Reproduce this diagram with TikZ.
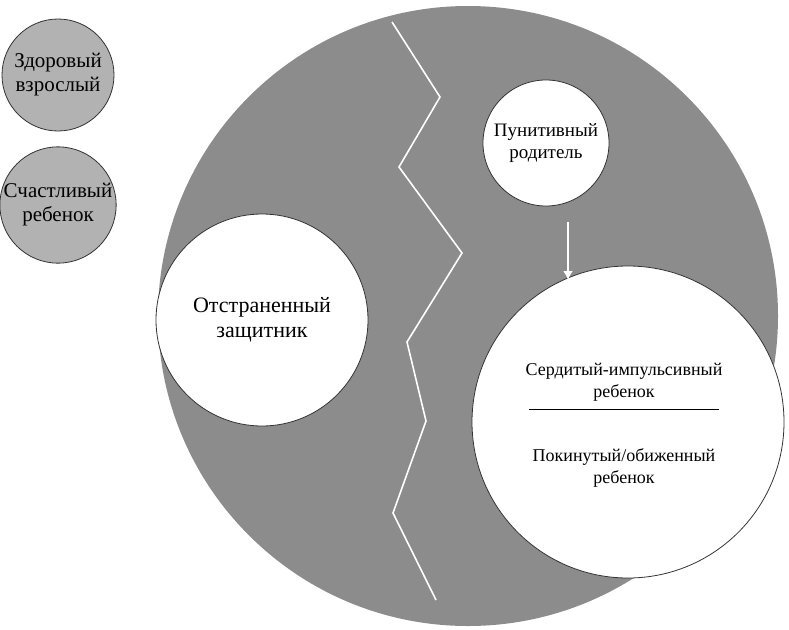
\documentclass[tikz,border=0pt]{standalone}
\usepackage{fontspec}
\setmainfont{Liberation Serif}
\usetikzlibrary{calc,arrows.meta}
\begin{document}
\begin{tikzpicture}[x=1pt,y=-1pt,
  circ/.style={circle,draw=black!80,line width=0.8pt,fill=white,align=center,inner sep=0pt},
  small/.style={circle,draw=black!80,line width=0.8pt,fill=black!30,align=center,font=\fontsize{21}{24}\selectfont,inner sep=0pt,minimum size=112pt}]
\useasboundingbox (0,0) rectangle (789,629);
\fill[black!45] (468,316) circle (310);
\node[small] (h) at (58,75) {Здоровый\\взрослый};
\node[small,minimum size=116pt] (s) at (58,205) {Счастливый\\ребенок};
\coordinate (z1) at (392,22); \coordinate (z2) at (440,97);
\coordinate (z3) at (399,167); \coordinate (z4) at (462,253);
\coordinate (z5) at (407,342); \coordinate (z6) at (426,421);
\coordinate (z7) at (393,513); \coordinate (z8) at (436,600);
\draw[white,line width=1.6pt] (z1)--(z2)--(z3)--(z4)--(z5)--(z6)--(z7)--(z8);
\node[circ,minimum size=212pt,font=\fontsize{22}{25}\selectfont] (d) at (262,320) {Отстраненный\\защитник};
\node[circ,minimum size=126pt,font=\fontsize{19}{22}\selectfont] (p) at (546,143) {Пунитивный\\родитель};
\node[circ,minimum size=312pt] (a) at (628,422) {};
\node[font=\fontsize{18}{22}\selectfont,align=center] (a1) at (624,382) {Сердитый-импульсивный\\ребенок};
\node[font=\fontsize{18}{22}\selectfont,align=center] (a2) at (624,468) {Покинутый/обиженный\\ребенок};
\draw[line width=1.3pt] ($(a1.south)+(-95,5)$) -- ($(a1.south)+(95,5)$);
\coordinate (pa) at (568,222); \coordinate (pb) at (568,280);
\draw[white,line width=2.5pt,-{Latex[length=9pt,width=10pt]}] (pa) -- (pb);
\end{tikzpicture}
\end{document}
